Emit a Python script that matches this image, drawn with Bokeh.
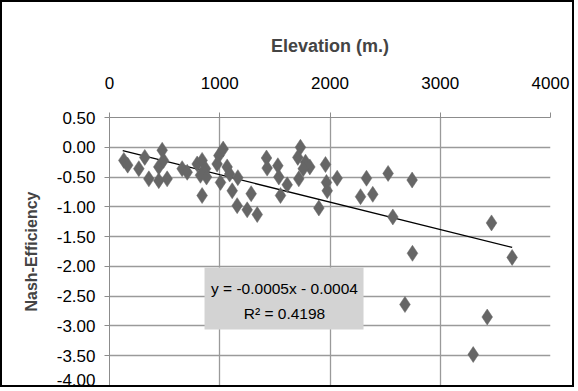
import numpy as np
from bokeh.plotting import figure
from bokeh.models import Range1d, NumeralTickFormatter, FixedTicker, BoxAnnotation, Label, ColumnDataSource
from bokeh.embed import file_html
from bokeh.resources import INLINE

# Data
elevation = [130, 165, 266, 320, 357, 478, 447, 447, 523, 490, 659, 705, 795, 840, 871,
             825, 880, 840, 992, 976, 1031, 1067, 1007, 1113, 1164, 1158, 1249, 1285, 1340,
             1424, 1430, 1527, 1536, 1612, 1551, 1732, 1708, 1778, 1717, 1817, 1757, 1899,
             1959, 1968, 1975, 2065, 2331, 2527, 2745, 2277, 2388, 2570, 2748, 2680, 3465,
             3652, 3426, 3299, 1090]
nash_eff = [-0.22, -0.30, -0.36, -0.17, -0.53, -0.05, -0.33, -0.56, -0.53, -0.22, -0.36,
            -0.42, -0.28, -0.22, -0.36, -0.47, -0.50, -0.81, -0.14, -0.28, -0.03, -0.33,
            -0.59, -0.73, -0.51, -0.98, -1.05, -0.78, -1.13, -0.18, -0.35, -0.31, -0.50,
            -0.63, -0.81, 0.00, -0.17, -0.25, -0.53, -0.33, -0.36, -1.02, -0.29, -0.59,
            -0.73, -0.52, -0.52, -0.44, -0.55, -0.83, -0.79, -1.17, -1.78, -2.64, -1.27,
            -1.85, -2.85, -3.48, -0.45]
x_ticks = [0, 1000, 2000, 3000, 4000]
y_ticks = [-4.0, -3.5, -3.0, -2.5, -2.0, -1.5, -1.0, -0.5, 0.0, 0.5]
# trendline as drawn in the reference (Excel linear fit)
trend_slope = -0.00046
trend_intercept = -0.0004
equation_lines = ["y = -0.0005x - 0.0004", "R\u00b2 = 0.4198"]

FONT = "Liberation Sans"

p = figure(width=574, height=387, output_backend="svg", toolbar_location=None,
           x_range=Range1d(0, 4000), y_range=Range1d(-4.0, 0.5),
           x_axis_location="above",
           min_border_left=107, min_border_right=26, min_border_top=115, min_border_bottom=4)
p.styles = {"border": "2px solid #000000"}
p.background_fill_color = "white"
p.border_fill_color = "white"
p.outline_line_color = None

# axes
p.xaxis.ticker = FixedTicker(ticks=x_ticks)
p.yaxis.ticker = FixedTicker(ticks=y_ticks)
p.yaxis.formatter = NumeralTickFormatter(format="0.00")
for ax in (p.xaxis[0], p.yaxis[0]):
    ax.axis_line_color = "#8c8c8c"
    ax.major_tick_line_color = "#8c8c8c"
    ax.major_tick_out = 5
    ax.major_tick_in = 0
    ax.minor_tick_line_color = None
    ax.major_label_text_font = FONT
    ax.major_label_text_font_size = "17px"
    ax.major_label_text_color = "#000000"

p.xaxis.axis_label = "Elevation (m.)"
p.xaxis.axis_label_text_font = FONT
p.xaxis.axis_label_text_font_size = "18px"
p.xaxis.axis_label_text_font_style = "bold"
p.xaxis.axis_label_standoff = 18
p.xaxis.major_label_standoff = 24

p.yaxis.axis_label = "Nash-Efficiency"
p.yaxis.axis_label_text_font = FONT
p.yaxis.axis_label_text_font_size = "16px"
p.yaxis.axis_label_text_font_style = "bold"
p.yaxis.axis_label_standoff = 14
p.yaxis.major_label_standoff = 9

p.xgrid.ticker = FixedTicker(ticks=x_ticks)
p.ygrid.ticker = FixedTicker(ticks=y_ticks)
for g in (p.xgrid[0], p.ygrid[0]):
    g.grid_line_color = "#9a9a9a"
    g.grid_line_width = 1.3

# trend line over the data's elevation range
xs = np.array(elevation, dtype=float)
lx = np.array([xs.min() - 10, xs.max()])
p.line(lx, trend_slope * lx + trend_intercept, line_color="#000000", line_width=1.3)

src = ColumnDataSource(dict(x=elevation, y=nash_eff))
p.scatter("x", "y", source=src, marker="diamond", size=16,
          fill_color="#666666", line_color="#666666", line_width=0.5)

# equation box
box = BoxAnnotation(left=862, right=2304, top=-2.02, bottom=-3.06,
                    fill_color="#d3d3d3", fill_alpha=1.0, line_color=None)
p.add_layout(box)
for txt, yy in zip(equation_lines, [-2.37, -2.79]):
    p.add_layout(Label(x=1587, y=yy, text=txt, text_align="center", text_baseline="middle",
                       text_font=FONT, text_font_size="15.5px", text_color="#000000"))

open("out.html", "w").write(file_html(p, INLINE))
